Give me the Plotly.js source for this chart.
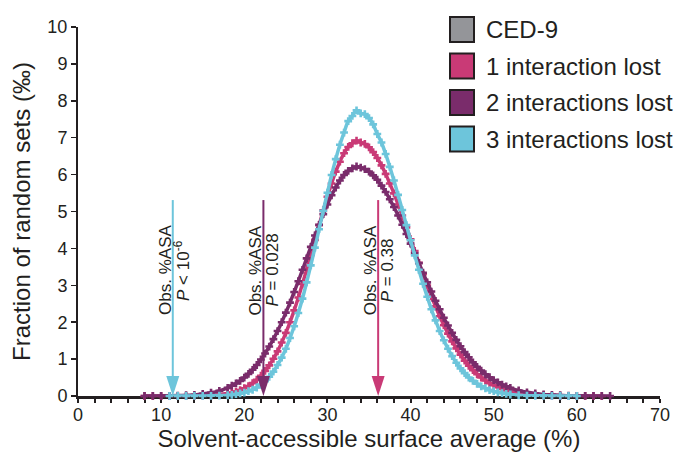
<!DOCTYPE html>
<html>
<head>
<meta charset="utf-8">
<script src="https://cdn.plot.ly/plotly-3.0.1.min.js"></script>
<style>html,body{margin:0;padding:0;background:#fff;}#chart{width:681px;height:459px;}</style>
</head>
<body>
<div id="chart"></div>
<script>
// ---- data ----
const xAsa = [8,9,10,11,12,13,14,15,16,17,
  18,18.5,19,19.5,20,20.5,21,21.5,22,22.5,23,23.5,24,24.5,25,25.5,26,26.5,27,27.5,
  28,28.5,29,29.5,30,30.5,31,31.5,32,32.5,33,33.5,34,34.5,35,35.5,36,36.5,37,37.5,
  38,38.5,39,39.5,40,40.5,41,41.5,42,42.5,43,43.5,44,44.5,45,45.5,46,46.5,47,47.5,
  48,48.5,49,49.5,50,50.5,51,51.5,52,
  53,54,55,56,57,58,59,60,61,62,63,64];

const lost3 = [null,null,null,0,0,0,0.001,0.002,0.005,0.011,
  0.02,0.03,0.05,0.07,0.09,0.13,0.17,0.23,0.31,0.40,0.52,0.66,0.84,1.04,1.28,1.57,1.89,2.25,2.64,3.08,
  3.54,4.02,4.52,5.02,5.51,5.99,6.42,6.81,7.14,7.45,7.59,7.74,7.66,7.64,7.53,7.36,7.10,6.87,6.56,6.21,
  5.84,5.45,5.04,4.63,4.22,3.81,3.42,3.04,2.69,2.35,2.05,1.76,1.51,1.28,1.08,0.90,0.75,0.62,0.50,0.41,
  0.33,0.26,0.21,0.16,0.13,0.10,0.08,0.06,0.04,
  0.02,0.01,0.007,0.004,0.002,0.001,0,0,null,null,null,null];

const lost1 = [0,0,0,0,0.001,0.002,0.005,0.01,0.02,0.04,
  0.07,0.09,0.12,0.16,0.21,0.27,0.35,0.44,0.55,0.68,0.83,1.01,1.21,1.45,1.71,2.00,2.32,2.67,3.04,3.42,
  3.82,4.23,4.63,5.03,5.40,5.76,6.08,6.35,6.58,6.75,6.85,6.92,6.87,6.83,6.74,6.61,6.45,6.25,6.02,5.76,
  5.49,5.19,4.89,4.57,4.25,3.93,3.61,3.30,2.99,2.70,2.43,2.16,1.92,1.69,1.48,1.29,1.12,0.96,0.82,0.70,
  0.59,0.50,0.42,0.35,0.29,0.24,0.19,0.16,0.13,
  0.08,0.05,0.03,0.02,0.01,0.006,0.003,0.002,0.001,0,0,null];

const lost2 = [0.001,0.002,0.003,0.006,0.011,0.02,0.03,0.06,0.09,0.14,
  0.22,0.28,0.34,0.41,0.50,0.60,0.71,0.84,0.99,1.15,1.34,1.54,1.76,2.00,2.26,2.53,2.82,3.11,3.42,3.73,
  4.04,4.35,4.64,4.93,5.19,5.44,5.65,5.84,5.99,6.10,6.17,6.22,6.19,6.15,6.08,5.98,5.86,5.70,5.53,5.33,
  5.12,4.89,4.64,4.39,4.13,3.87,3.60,3.34,3.08,2.83,2.58,2.35,2.12,1.91,1.71,1.52,1.35,1.19,1.05,0.91,
  0.79,0.69,0.59,0.51,0.43,0.37,0.31,0.26,0.22,
  0.15,0.10,0.07,0.04,0.03,0.02,0.01,0.006,0.004,0.002,0.001,0];

const legendNames = ['CED-9','1 interaction lost','2 interactions lost','3 interactions lost'];
const obsAsa = [11.4, 22.3, 36.1];           // observed %ASA for 3, 2, 1 interactions lost
const obsP = ['<i>P</i> &lt; 10<sup>-6</sup>', '<i>P</i> = 0.028', '<i>P</i> = 0.38'];
const arrowTop = 5.31;
const xTitle = 'Solvent-accessible surface average (%)';
const yTitle = 'Fraction of random sets (‰)';

// ---- styling ----
const C = {gray:'#949599', pink:'#c93a76', purple:'#7a2c6b', cyan:'#6dc5db', ink:'#231f20'};
const legendColors = [C.gray, C.pink, C.purple, C.cyan];
const obsColors = [C.cyan, C.purple, C.pink];
const FONT = 'Liberation Sans, Arial, Helvetica, sans-serif';

function series(y, color){
  return {x:xAsa, y:y, type:'scatter', mode:'lines+markers', cliponaxis:false, showlegend:false,
    line:{color:color, width:3.5, shape:'spline'},
    marker:{symbol:'cross', size:6.5, color:color, line:{width:0}}, hoverinfo:'skip'};
}
const traces = [series(lost1, C.pink), series(lost2, C.purple), series(lost3, C.cyan)];

// plot area in px
const L = 78, R = 660, T = 27, B = 396;
const px = v => (v - L) / (R - L);
const py = v => (B - v) / (B - T);

const shapes = [];
const annotations = [];
obsAsa.forEach((xv, i) => {
  shapes.push({type:'line', xref:'x', yref:'y', x0:xv, x1:xv, y0:0.3, y1:arrowTop,
    line:{color:obsColors[i], width:2}});
  shapes.push({type:'path', xref:'x', yref:'y', xsizemode:'pixel', ysizemode:'pixel',
    xanchor:xv, yanchor:0, path:'M0,0 L-6.5,20 L6.5,20 Z', fillcolor:obsColors[i], line:{width:0}});
  annotations.push({xref:'x', yref:'y', x:xv, y:3.41, text:'Obs. %ASA', textangle:-90, showarrow:false,
    xshift:-8, font:{family:FONT, size:17, color:C.ink}});
  annotations.push({xref:'x', yref:'y', x:xv, y:3.41, text:obsP[i], textangle:-90, showarrow:false,
    xshift:9, font:{family:FONT, size:17, color:C.ink}});
});
legendNames.forEach((name, i) => {
  const top = 17 + i * 36.5;
  shapes.push({type:'rect', xref:'paper', yref:'paper', x0:px(450), x1:px(474), y0:py(top + 25), y1:py(top),
    fillcolor:legendColors[i], line:{color:C.ink, width:2}});
  annotations.push({xref:'paper', yref:'paper', x:px(484), y:py(top + 12.5), xanchor:'left', yanchor:'middle',
    text:name, showarrow:false, font:{family:FONT, size:24, color:C.ink}});
});

const layout = {
  width:681, height:459,
  margin:{l:L, r:681 - R, t:T, b:459 - B},
  paper_bgcolor:'#fff', plot_bgcolor:'#fff',
  font:{family:FONT, color:C.ink},
  showlegend:false,
  xaxis:{range:[0,70], tick0:0, dtick:10, ticks:'outside', ticklen:4, tickwidth:2, tickcolor:C.ink,
    showline:true, linewidth:3, linecolor:C.ink, showgrid:false, zeroline:false, layer:'below traces',
    ticklabelstandoff:-4,
    minor:{dtick:2, ticks:'outside', ticklen:4, tickwidth:2, tickcolor:C.ink, showgrid:false},
    tickfont:{size:18, family:FONT, color:C.ink},
    title:{text:xTitle, font:{size:24, family:FONT, color:C.ink}, standoff:4}},
  yaxis:{range:[0,10], tick0:0, dtick:1, ticks:'outside', ticklen:5, tickwidth:1.5, tickcolor:C.ink,
    showline:true, linewidth:2, linecolor:C.ink, showgrid:false, zeroline:false,
    tickfont:{size:18, family:FONT, color:C.ink},
    title:{text:yTitle, font:{size:24, family:FONT, color:C.ink}, standoff:10}},
  shapes:shapes,
  annotations:annotations
};

Plotly.newPlot('chart', traces, layout, {staticPlot:true, displayModeBar:false});
</script>
</body>
</html>
